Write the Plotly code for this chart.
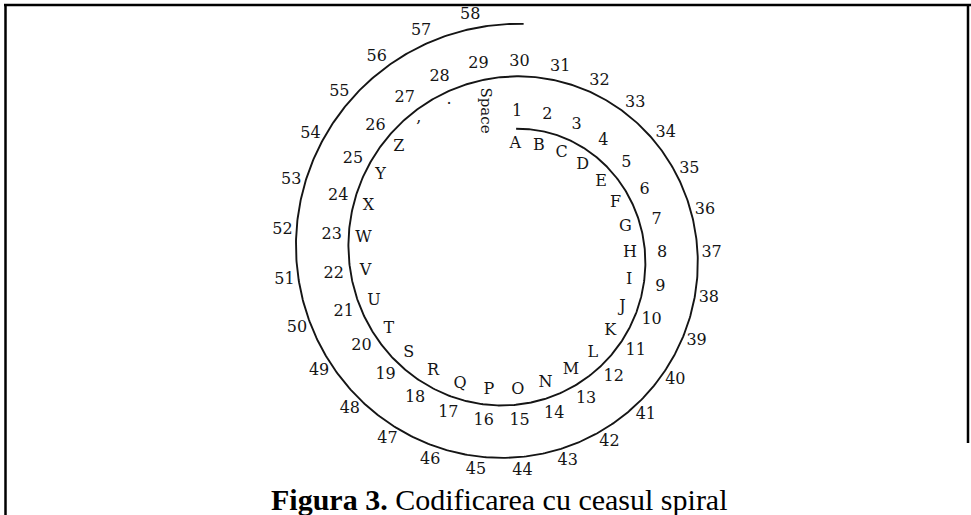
import numpy as np
import plotly.graph_objects as go

# ---- data: symbols and codes on the spiral clock ----
inner_symbols = ["A", "B", "C", "D", "E", "F", "G", "H", "I", "J", "K", "L", "M",
                 "N", "O", "P", "Q", "R", "S", "T", "U", "V", "W", "X", "Y", "Z",
                 ",", ".", "Space"]
inner_numbers = [1, 2, 3, 4, 5, 6, 7, 8, 9, 10, 11, 12, 13, 14, 15, 16, 17, 18, 19,
                 20, 21, 22, 23, 24, 25, 26, 27, 28, 29]
outer_numbers = [30, 31, 32, 33, 34, 35, 36, 37, 38, 39, 40, 41, 42, 43, 44, 45, 46,
                 47, 48, 49, 50, 51, 52, 53, 54, 55, 56, 57, 58]
caption = "<b>Figura 3.</b> Codificarea cu ceasul spiral"

# ---- geometry of the spiral (pixel space of the figure) ----
W, H = 971, 515
CX, CY = 510.0, 254.0
RX0, RY0 = 122.0, 125.0
GROW = 52.5                      # radius growth per full turn
TH0 = 0.05                       # start angle (clockwise from top)
N = len(inner_symbols)
STEP = 2 * np.pi / N


def pos(theta, off):
    k = GROW * theta / (2 * np.pi)
    rx = RX0 + k + off
    ry = RY0 + k + off
    return CX + rx * np.sin(theta), CY - ry * np.cos(theta)


INK = "#151515"
LABEL_FONT = dict(family="DejaVu Serif", size=16, color=INK)

fig = go.Figure()

# spiral line
t = np.linspace(TH0, 4 * np.pi + 0.06, 1200)
sx, sy = pos(t, 0)
fig.add_trace(go.Scatter(x=sx, y=sy, mode="lines",
                         line=dict(color=INK, width=1.9), hoverinfo="skip"))

# angles of each slot
ang_inner = TH0 + STEP * np.arange(N)
ang_outer = ang_inner + 2 * np.pi

# numbers 1..29 (outside first turn)
nx, ny = pos(ang_inner, 17)
fig.add_trace(go.Scatter(x=nx, y=ny, mode="text",
                         text=[str(v) for v in inner_numbers],
                         textfont=LABEL_FONT, hoverinfo="skip"))

# numbers 30..58 (outside second turn)
ox, oy = pos(ang_outer, 14)
fig.add_trace(go.Scatter(x=ox, y=oy, mode="text",
                         text=[str(v) for v in outer_numbers],
                         textfont=LABEL_FONT, hoverinfo="skip"))

# letters and punctuation (inside first turn)
lx, ly, lt = [], [], []
for i, s in enumerate(inner_symbols):
    if s == "Space":
        px, py = pos(ang_inner[i], -31)
        fig.add_annotation(x=px, y=py, text=s, textangle=90, showarrow=False,
                           font=dict(family="DejaVu Serif", size=15, color=INK),
                           xanchor="center", yanchor="middle")
        continue
    off = -8 if s in (",", ".") else -15
    px, py = pos(ang_inner[i], off)
    lx.append(px); ly.append(py); lt.append(s)
fig.add_trace(go.Scatter(x=lx, y=ly, mode="text", text=lt,
                         textfont=LABEL_FONT, hoverinfo="skip"))

# caption
fig.add_annotation(x=499, y=499, text=caption, showarrow=False,
                   font=dict(family="Liberation Serif", size=30, color="#000000"),
                   xanchor="center", yanchor="middle")

# frame lines
frame = dict(type="line", line=dict(color="#000000", width=2.5), layer="above")
fig.add_shape(x0=4, x1=W, y0=5, y1=5, **frame)
fig.add_shape(x0=5.5, x1=5.5, y0=4, y1=H, **frame)
fig.add_shape(x0=968, x1=968, y0=4, y1=443, **frame)

fig.update_layout(
    width=W, height=H, margin=dict(l=0, r=0, t=0, b=0),
    paper_bgcolor="white", plot_bgcolor="white", showlegend=False,
    hovermode=False,
    xaxis=dict(range=[0, W], visible=False, fixedrange=True),
    yaxis=dict(range=[H, 0], visible=False, fixedrange=True),
)
fig.write_html(
    "out.html",
    config={"displayModeBar": False, "staticPlot": True},
    post_script="document.body.style.margin='0px';"
                "document.body.style.overflow='hidden';",
)
